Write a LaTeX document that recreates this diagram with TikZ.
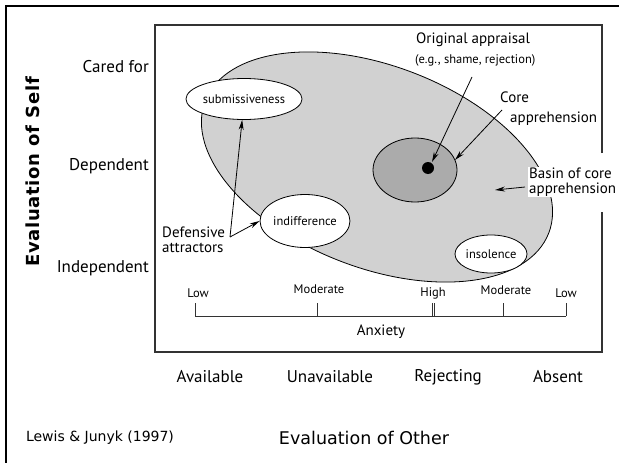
\documentclass[tikz,border=0pt]{standalone}
\usepackage{fontspec}
\setmainfont{PT Sans}
\newfontfamily\vfont{DejaVu Sans}
\newfontfamily\vfontsp[LetterSpace=4]{DejaVu Sans}
\usetikzlibrary{shapes.geometric,arrows.meta}
\begin{document}
\begin{tikzpicture}[x=1pt,y=-1pt,
  lbl/.style={font=\fontsize{15}{16}\selectfont, inner sep=0pt},
  axl/.style={font=\fontsize{17}{18}\selectfont, inner sep=0pt},
  small/.style={font=\fontsize{12.5}{13}\selectfont, inner sep=0pt},
  oval/.style={ellipse, draw, thick, fill=white, inner sep=0pt, font=\fontsize{12.5}{13}\selectfont},
  arr/.style={thick, -{Stealth[length=10pt,width=5pt]}},
  tick/.style={thick, black!80}]
\useasboundingbox (0,0) rectangle (619,463);
\fill[white] (0,0) rectangle (619,463);
% outer black border
\draw[line width=2.6pt] (6,463) -- (6,6) -- (619,6);
% inner frame
\draw[line width=1.1pt, black!80] (602,153) -- (602,25) -- (155,25) -- (155,352) -- (602,352) -- (602,212);
% basin
\node[ellipse, draw, thick, fill=black!18, minimum width=368pt, minimum height=202pt, inner sep=0pt, rotate=-21] (basin) at (377,167) {};
% core
\node[ellipse, draw, thick, fill=black!33, minimum width=84pt, minimum height=64pt] (core) at (415,170) {};
\node[circle, fill=black, minimum size=12pt, inner sep=0pt] (dot) at (428,168) {};
% attractors
\node[oval, minimum width=96pt, minimum height=41pt] (sub) at (244,99) {submissiveness};
\node[oval, minimum width=75pt, minimum height=53pt] (ind) at (305,221) {indifference};
\node[oval, minimum width=72pt, minimum height=38pt] (ins) at (491,254) {insolence};
% labels
\node[lbl, anchor=west] (orig) at (416,40) {Original appraisal};
\node[small, anchor=west] (eg) at (415,60) {(e.g., shame, rejection)};
\node[lbl, anchor=west] (corel) at (500,97) {Core};
\node[lbl, anchor=west] (coreapp) at (510,119) {apprehension};
\node[lbl, anchor=west, align=left, fill=white, inner sep=1pt] (basinl) at (528,182) {Basin of core\\[-1pt]apprehension};
\node[lbl, anchor=west, align=left] (def) at (162,240) {Defensive\\[-1pt]attractors};
% arrows
\coordinate (o1) at (472,77);
\coordinate (c1) at (502,110);
\coordinate (b1) at (525,187);
\coordinate (d1) at (230,237);
\draw[arr] (o1) -- (432,162);
\draw[arr] (c1) -- (455,160);
\draw[arr] (b1) -- (495,190);
\draw[arr] (d1) -- (sub.-95);
\draw[arr] (d1) -- (ind.west);
% anxiety scale
\coordinate (s0) at (195,316);
\coordinate (s1) at (566,316);
\draw[tick] (s0) -- (s1);
\draw[tick] (195,316) -- (195,303);
\draw[tick] (317,316) -- (317,303);
\draw[tick] (432,316) -- (432,303);
\draw[tick] (434,316) -- (434,303);
\draw[tick] (503,316) -- (503,303);
\draw[tick] (566,316) -- (566,303);
\node[small] (l1) at (198,293) {Low};
\node[small] (m1) at (319,289) {Moderate};
\node[small] (h1) at (433,293) {High};
\node[small] (m2) at (506,290) {Moderate};
\node[small] (l2) at (566,293) {Low};
\node[lbl] (anx) at (381,332) {Anxiety};
% y axis
\node[axl, anchor=east] (cf) at (149,67) {Cared for};
\node[axl, anchor=east] (dep) at (149,166) {Dependent};
\node[axl, anchor=east] (indep) at (149,268) {Independent};
\node[font=\vfontsp\bfseries\fontsize{18}{19}\selectfont, rotate=90, inner sep=0pt] (evs) at (33,172) {Evaluation of Self};
% x axis
\node[axl] (av) at (210,377) {Available};
\node[axl] (un) at (330,377) {Unavailable};
\node[axl] (rej) at (448,377) {Rejecting};
\node[axl] (abs) at (558,377) {Absent};
\node[font=\vfont\fontsize{17.5}{19}\selectfont, inner sep=0pt] (evo) at (364,438) {Evaluation of Other};
\node[font=\vfont\fontsize{14}{15}\selectfont, inner sep=0pt] (ref) at (100,438) {Lewis \& Junyk (1997)};
\end{tikzpicture}
\end{document}
